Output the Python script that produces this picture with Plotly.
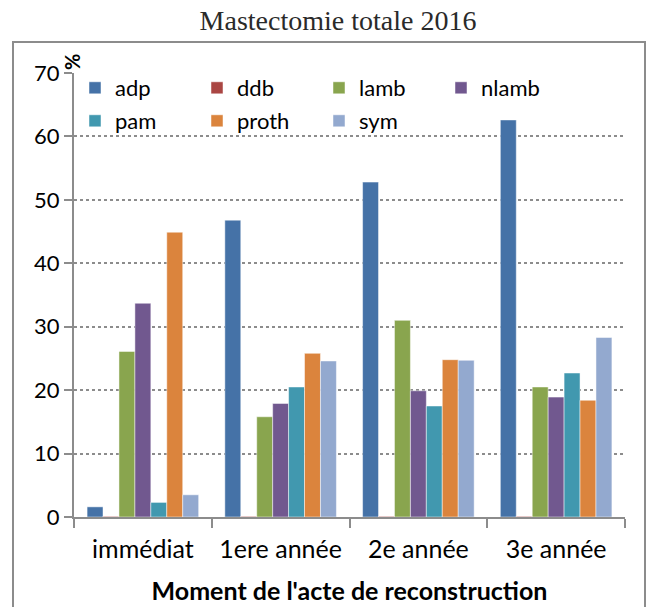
import plotly.graph_objects as go

categories = ["immédiat", "1ere année", "2e année", "3e année"]

series = {
    "adp":   [1.6, 46.8, 52.8, 62.6],
    "ddb":   [0.1, 0.1, 0.1, 0.1],
    "lamb":  [26.1, 15.8, 31.0, 20.5],
    "nlamb": [33.7, 17.9, 19.9, 18.9],
    "pam":   [2.3, 20.5, 17.5, 22.7],
    "proth": [44.9, 25.8, 24.8, 18.4],
    "sym":   [3.5, 24.6, 24.7, 28.3],
}

colors = {
    "adp": "#4572A7",
    "ddb": "#AA4643",
    "lamb": "#89A54E",
    "nlamb": "#71588F",
    "pam": "#4198AF",
    "proth": "#DB843D",
    "sym": "#93A9CF",
}

W, H = 646, 607
L, R, T, B = 74, 21, 73, 90
pw, ph = W - L - R, H - T - B

# first legend row / second legend row
row1 = ["adp", "ddb", "lamb", "nlamb"]

fig = go.Figure()
for name, vals in series.items():
    fig.add_trace(go.Bar(
        x=categories, y=vals, name=name,
        legend="legend" if name in row1 else "legend2",
        marker=dict(color=colors[name], line=dict(color="rgba(255,255,255,0.6)", width=0.8)),
    ))


def px_x(p):
    return (p - L) / pw


def px_y(p):
    return 1 - (p - T) / ph


# outer frame of the chart
fig.add_shape(type="rect", xref="paper", yref="paper",
              x0=px_x(13), x1=px_x(645), y0=px_y(612), y1=px_y(42),
              line=dict(color="#8c8c8c", width=2), layer="below")

fig.add_annotation(text="<b>%</b>", xref="paper", yref="paper",
                   x=px_x(72), y=px_y(62), xanchor="center", yanchor="middle",
                   showarrow=False, textangle=-90,
                   font=dict(size=20, color="black", family="Lato"))

leg = dict(orientation="h", xanchor="left", yanchor="middle",
           entrywidth=77, entrywidthmode="pixels", bgcolor="rgba(0,0,0,0)",
           font=dict(size=22), itemwidth=30)

fig.update_layout(
    width=W, height=H,
    margin=dict(l=L, r=R, t=T, b=B, autoexpand=False),
    paper_bgcolor="white", plot_bgcolor="white",
    font=dict(family="Lato", color="black", size=22),
    title=dict(text="Mastectomie totale 2016", x=338 / W, xref="container", xanchor="center",
               y=1 - 20 / H, yanchor="middle", yref="container",
               font=dict(family="Liberation Serif", size=28, color="#2a2a2a")),
    barmode="group", bargap=0.19, bargroupgap=0,
    legend=dict(leg, x=px_x(75), y=px_y(88)),
    legend2=dict(leg, x=px_x(75), y=px_y(121)),
    showlegend=True,
)

fig.update_yaxes(range=[0, 70], dtick=10, showgrid=True, gridcolor="#8c8c8c",
                 griddash="dot", gridwidth=1.5, showline=True, linecolor="#8c8c8c",
                 linewidth=2, ticks="outside", ticklen=8, tickcolor="#8c8c8c",
                 tickwidth=2, zeroline=False, tickfont=dict(size=22), automargin=False)
fig.update_xaxes(showline=True, linecolor="#8c8c8c", linewidth=2, ticks="outside",
                 tickson="boundaries", ticklen=9, tickcolor="#8c8c8c", tickwidth=2,
                 tickfont=dict(size=25), ticklabelstandoff=9, automargin=False,
                 title=dict(text="<b>Moment de l'acte de reconstruction</b>",
                            font=dict(size=25), standoff=20))

fig.write_html("out.html", config={"displayModeBar": False},
               post_script="document.body.style.margin='0';")
